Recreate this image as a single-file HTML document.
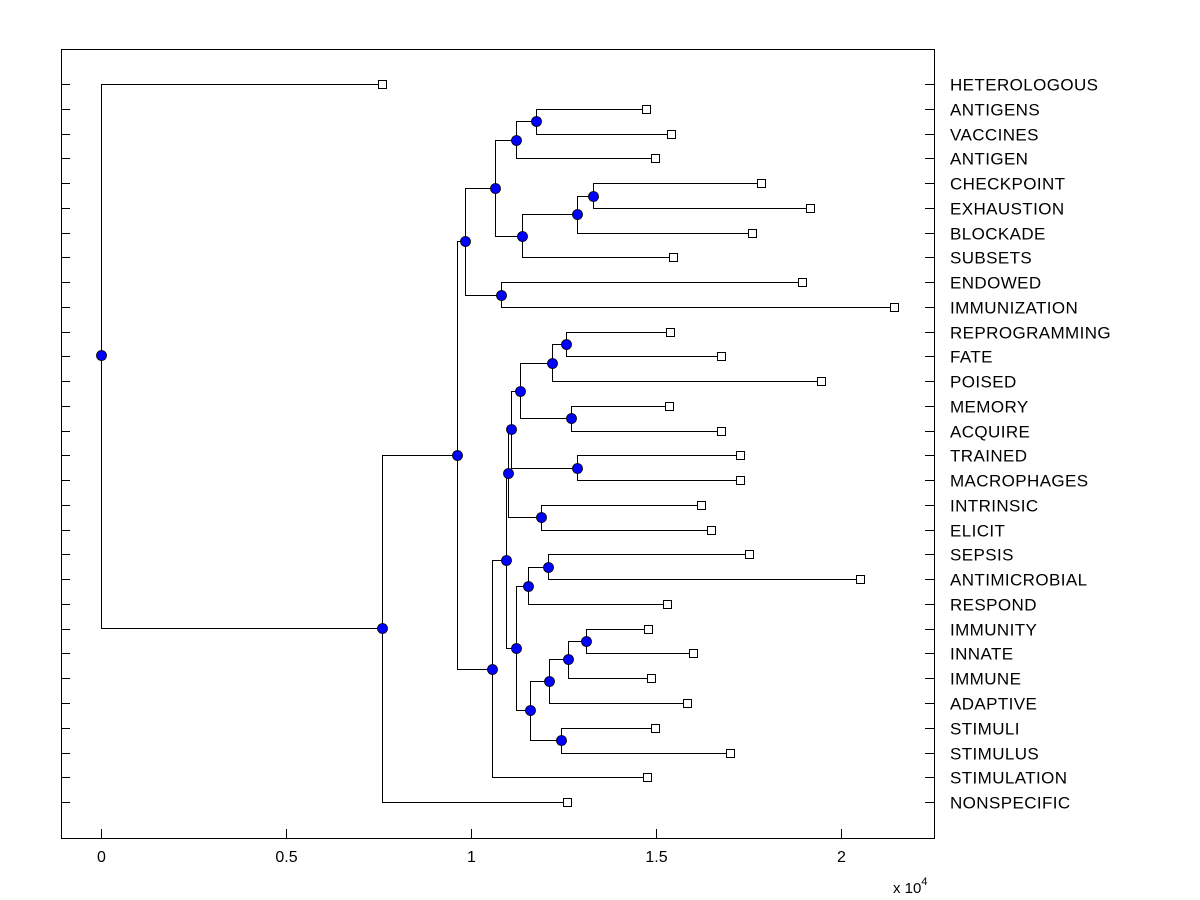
<!DOCTYPE html>
<html><head><meta charset="utf-8"><style>
html,body{margin:0;padding:0;background:#fff;}
svg{display:block;font-family:"Liberation Sans",Arial,sans-serif;}
</style></head><body>
<svg id="chart" width="1200" height="900"></svg>
<script>
const leafLabels = ["HETEROLOGOUS","ANTIGENS","VACCINES","ANTIGEN","CHECKPOINT","EXHAUSTION","BLOCKADE","SUBSETS","ENDOWED","IMMUNIZATION","REPROGRAMMING","FATE","POISED","MEMORY","ACQUIRE","TRAINED","MACROPHAGES","INTRINSIC","ELICIT","SEPSIS","ANTIMICROBIAL","RESPOND","IMMUNITY","INNATE","IMMUNE","ADAPTIVE","STIMULI","STIMULUS","STIMULATION","NONSPECIFIC"];
const leafValues = [0.759,1.473,1.541,1.497,1.784,1.916,1.759,1.546,1.895,2.143,1.538,1.676,1.946,1.535,1.676,1.727,1.727,1.622,1.649,1.751,2.051,1.530,1.478,1.600,1.486,1.584,1.497,1.700,1.476,1.259];
const nodeIds = ["A","B","C","D","E","F","G","H","I","J","K","L","M","N","O","P","X","V","Y3","Y2","Y","Z","W","R","Q","S","T","U","root"];
const nodeValues = [1.176,1.122,1.330,1.286,1.138,1.065,1.081,0.984,1.257,1.219,1.270,1.132,1.286,1.189,1.108,1.100,1.208,1.154,1.311,1.262,1.211,1.243,1.159,1.122,1.095,1.057,0.962,0.759,0];
const nodeRows = [1.49,2.26,4.52,5.25,6.14,4.20,8.52,6.34,10.50,11.27,13.49,12.40,15.51,17.49,13.93,15.71,19.51,20.27,22.50,23.22,24.11,26.49,25.28,22.78,19.22,23.63,14.98,21.97,10.94];
const nodeChildren = [[1,2],["A",3],[4,5],["C",6],["D",7],["B","E"],[8,9],["F","G"],[10,11],["I",12],[13,14],["J","K"],[15,16],[17,18],["L","M"],["O","N"],[19,20],["X",21],[22,23],["Y3",24],["Y2",25],[26,27],["Y","Z"],["V","W"],["P","R"],["Q",28],["H","S"],["T",29],[0,"U"]];
const xTicks = [0,0.5,1,1.5,2];

const svg = document.getElementById('chart');
const NS = "http://www.w3.org/2000/svg";
const L=61,R=934,T=49,B=838;
const xs = v => 101 + v*370;
const ys = r => 84 + r*24.76;
function mk(tag, attrs, parent){const e=document.createElementNS(NS,tag);for(const k in attrs)e.setAttribute(k,attrs[k]);(parent||svg).appendChild(e);return e;}

const frame = mk('rect',{x:L+0.5,y:T+0.5,width:R-L,height:B-T,fill:'none',stroke:'#000','stroke-width':1});



xTicks.forEach(t=>{
  const x = Math.round(xs(t))+0.5;
  const tk = mk('line',{x1:x,x2:x,y1:B,y2:B-9,stroke:'#000'});
  
  
  const lb = mk('text',{x:x,y:862,'text-anchor':'middle','font-size':16});
  lb.textContent = String(t);
  
  
});
const ex = mk('text',{x:893,y:893,'font-size':15});
ex.innerHTML = 'x 10<tspan dy="-8" font-size="11">4</tspan>';



leafLabels.forEach((name,i)=>{
  const y = Math.round(ys(i))+0.5;
  const a = mk('line',{x1:L,x2:L+9,y1:y,y2:y,stroke:'#000'});
  
  
  const b = mk('line',{x1:R-9,x2:R,y1:y,y2:y,stroke:'#000'});
  
  
  const tx = mk('text',{x:950,y:y+6,'font-size':17,'letter-spacing':0.4});
  tx.textContent = name;
  
  
});

function pos(c){
  if(typeof c==='number') return [xs(leafValues[c]), ys(c)];
  const k = nodeIds.indexOf(c);
  return [xs(nodeValues[k]), ys(nodeRows[k])];
}
const gLines = mk('g',{stroke:'#000','stroke-width':1,fill:'none'});


nodeIds.forEach((id,k)=>{
  const px = Math.round(xs(nodeValues[k]))+0.5, py = Math.round(ys(nodeRows[k]))+0.5;
  nodeChildren[k].forEach(c=>{
    const [cx,cy] = pos(c);
    const p = mk('polyline',{points:`${px},${py} ${px},${Math.round(cy)+0.5} ${Math.round(cx)+0.5},${Math.round(cy)+0.5}`},gLines);
    
    
  });
});
nodeIds.forEach((id,k)=>{
  const c = mk('circle',{cx:Math.round(xs(nodeValues[k]))+0.5,cy:Math.round(ys(nodeRows[k]))+0.5,r:5,fill:'#0000ff',stroke:'#000','stroke-width':0.8});
  
  
});
leafValues.forEach((v,i)=>{
  const s = mk('rect',{x:Math.round(xs(v))-3.5,y:Math.round(ys(i))-3.5,width:8,height:8,fill:'#fff',stroke:'#000','stroke-width':1});
  
  
});
</script>
</body></html>
